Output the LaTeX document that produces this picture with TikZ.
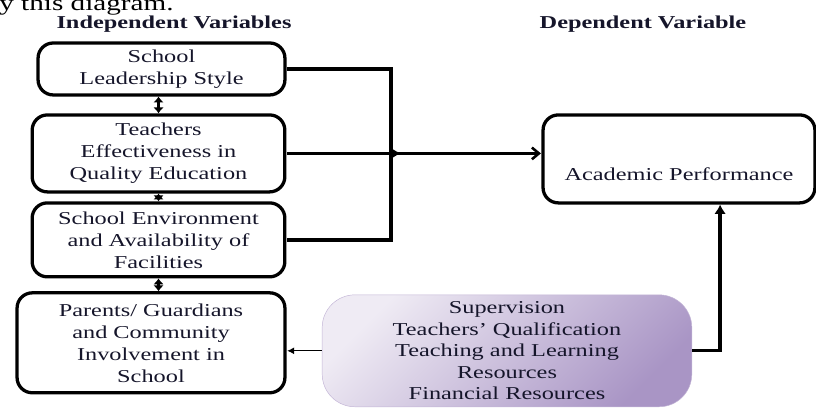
\documentclass[tikz,border=0pt]{standalone}
\usepackage{fontspec}
\setmainfont{Liberation Serif}
\usepackage{tikz}
\usetikzlibrary{arrows.meta,calc}
\definecolor{ink}{HTML}{15152A}
\definecolor{lilaclight}{HTML}{EFEBF4}
\definecolor{lilacdark}{HTML}{A995C5}

\begin{document}
\begin{tikzpicture}[x=0.0224cm, y=-0.03cm, xscale=1.34, transform shape,
    var/.style={draw, line width=2.8pt, rounded corners=13pt, align=center, text=ink,
        font=\fontsize{15.5}{18.8}\selectfont},
    head/.style={text=ink, font=\fontsize{15.5}{18}\selectfont\bfseries},
    link/.style={line width=2.8pt},
    dbl/.style={line width=2pt, {Latex[length=5pt,width=9pt]}-{Latex[length=5pt,width=9pt]}}]
    \useasboundingbox (0,0) rectangle (816,414);

    % heading lines
    \node[anchor=base west, inner sep=0pt, font=\fontsize{18.6}{20}\selectfont] (frag) at (-1,11) {y this diagram.};
    \node[head] (indep) at (174,24) {Independent Variables};
    \node[head] (dep) at (643,24) {Dependent Variable};

    % independent variables
    \node[var, minimum width=5.53cm, minimum height=1.56cm] (lead) at (161.5,69) {School\\Leadership Style};
    \node[var, minimum width=5.66cm, minimum height=2.31cm] (teach) at (158.5,153.5) {Teachers\\Effectiveness in\\Quality Education};
    \node[var, minimum width=5.66cm, minimum height=2.22cm] (env) at (158.5,240) {School Environment\\and Availability of\\Facilities};
    \node[var, minimum width=6cm, minimum height=3cm] (parent) at (151,343) {Parents/ Guardians\\and Community\\Involvement in\\School};

    % dependent variable
    \node[var, minimum width=6.09cm, minimum height=2.64cm, text height=40pt, text depth=3pt] (acad) at (679,159) {Academic Performance};

    % intervening variables
    \node[align=center, text=ink, font=\fontsize{15.5}{18.3}\selectfont, rounded corners=28pt,
        left color=lilaclight, right color=lilacdark, shading angle=45, draw=lilacdark!70,
        minimum width=8.28cm, minimum height=3.36cm] (supp) at (507,351)
        {Supervision\\Teachers’ Qualification\\Teaching and Learning\\Resources\\Financial Resources};

    % links between boxes
    \draw[dbl] (lead.south -| teach.south) -- (teach.north);
    \draw[dbl] (teach.south) -- (env.north);
    \draw[dbl] (env.south) -- (env.south |- parent.north);

    % trunk to academic performance
    \coordinate (jn) at (391,153.5);
    \draw[link] (lead.east) -| (jn) |- (env.east);
    \draw[line width=2.2pt, -{Latex[length=8pt,width=9pt]}] (teach.east) -- ($(jn)+(10,0)$);
    \draw[line width=2.2pt, -{Straight Barb[length=6pt,width=10pt]}] (jn) -- (jn -| acad.west);
    \draw[link, -{Latex[length=8pt,width=10pt]}] (supp.east) -| ($(acad.south)+(41,0)$);
    \draw[line width=0.9pt, -{Latex[length=6pt,width=6pt]}] (supp.west) -- (supp.west -| parent.east);
\end{tikzpicture}
\end{document}
